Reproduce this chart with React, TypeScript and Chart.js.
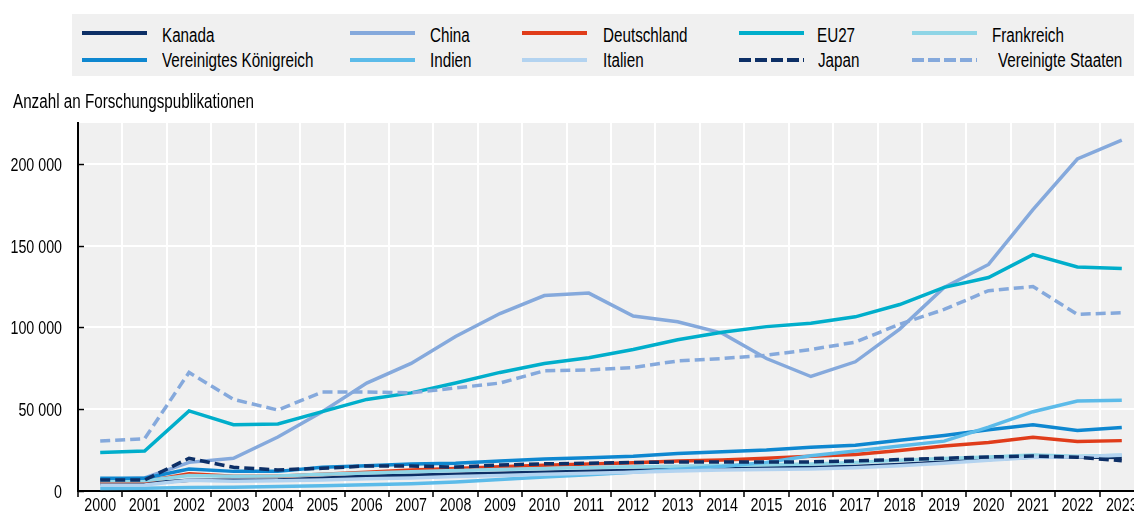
import React, { useEffect, useRef } from "react";
import { Chart, registerables } from "chart.js";

Chart.register(...registerables);

const years = ["2000","2001","2002","2003","2004","2005","2006","2007","2008","2009","2010","2011","2012","2013","2014","2015","2016","2017","2018","2019","2020","2021","2022","2023"];

const kanada = [4500, 4700, 6500, 6500, 6800, 7800, 9000, 9600, 10200, 10800, 11500, 12000, 12600, 13200, 13600, 14000, 14400, 15000, 16200, 17800, 19200, 20800, 20800, 20500];
const china = [7000, 8000, 17500, 20000, 33000, 48500, 66000, 78000, 94500, 108500, 119500, 121000, 107000, 103500, 96500, 81000, 70000, 79000, 99000, 124500, 138500, 172000, 203000, 214500];
const deutschland = [5700, 5800, 10500, 9000, 9000, 10300, 11500, 12800, 13800, 14800, 15800, 16500, 17300, 18300, 19000, 20000, 21300, 22300, 24700, 27500, 29600, 32800, 30200, 30800];
const eu27 = [23500, 24500, 49000, 40500, 41000, 48500, 56000, 60000, 66000, 72500, 78000, 81500, 86500, 92500, 97000, 100500, 102500, 106500, 114000, 124500, 130500, 144500, 137000, 136000];
const frankreich = [6200, 6300, 9500, 9000, 9200, 10200, 11000, 11800, 12500, 13200, 13800, 14300, 14800, 15200, 15600, 16000, 16500, 17500, 18800, 19800, 20800, 22000, 21300, 21800];
const vk = [7800, 7800, 13500, 12000, 12000, 14500, 15500, 16500, 17000, 18300, 19600, 20300, 21300, 23000, 24000, 25000, 26700, 28000, 31000, 34000, 37500, 40500, 37000, 38800];
const indien = [1500, 1700, 2200, 2300, 2700, 3200, 3800, 4500, 5500, 7000, 8500, 10000, 11500, 13300, 15000, 17500, 21500, 24500, 27500, 30500, 39000, 48500, 55000, 55500];
const italien = [3500, 3700, 6500, 6000, 6200, 6800, 7500, 8000, 8800, 9500, 10200, 10800, 11500, 12200, 12800, 13100, 13500, 14200, 15500, 17000, 18800, 20500, 20800, 22000];
const japan = [6700, 6700, 20000, 14500, 12900, 13900, 15300, 15300, 14600, 15900, 16600, 17000, 17400, 17800, 17800, 17800, 17800, 18400, 19200, 20000, 20800, 21400, 20700, 18500];
const usa = [30500, 32000, 72500, 56000, 49500, 60500, 60500, 60000, 63000, 66000, 73500, 74000, 75500, 79500, 81000, 83000, 86500, 91000, 102000, 111000, 122500, 125000, 108000, 109000];

const yTicks = [0, 50000, 100000, 150000, 200000];
const yTitle = "Anzahl an Forschungspublikationen";

const series = [
  { label: "Kanada", data: kanada, color: "#0d2f66", dash: [] as number[] },
  { label: "China", data: china, color: "#85a9dc", dash: [] as number[] },
  { label: "Deutschland", data: deutschland, color: "#e03c1a", dash: [] as number[] },
  { label: "EU27", data: eu27, color: "#00aecb", dash: [] as number[] },
  { label: "Frankreich", data: frankreich, color: "#8fd5e6", dash: [] as number[] },
  { label: "Vereinigtes Königreich", data: vk, color: "#0e87d0", dash: [] as number[] },
  { label: "Indien", data: indien, color: "#5cbbe9", dash: [] as number[] },
  { label: "Italien", data: italien, color: "#b3d3f0", dash: [] as number[] },
  { label: "Japan", data: japan, color: "#0d2f66", dash: [10, 5] },
  { label: "Vereinigte Staaten", data: usa, color: "#85a9dc", dash: [10, 5] },
];

const FONT = '"Liberation Sans", Arial, sans-serif';
const TICK_SIZE = 19;
const TICK_SCALE = 0.75;

const fmt = (v: number) => String(v).replace(/\B(?=(\d{3})+(?!\d))/g, " ");

const drawNarrow = (ctx: CanvasRenderingContext2D, text: string, x: number, y: number, align: CanvasTextAlign) => {
  ctx.save();
  ctx.translate(x, y);
  ctx.scale(TICK_SCALE, 1);
  ctx.textAlign = align;
  ctx.textBaseline = "alphabetic";
  ctx.fillText(text, 0, 0);
  ctx.restore();
};

const bgPlugin = {
  id: "bgPlugin",
  beforeDraw(chart: any) {
    const { ctx, chartArea } = chart;
    ctx.save();
    ctx.fillStyle = "#f0f0f0";
    ctx.fillRect(chartArea.left, chartArea.top, chartArea.right - chartArea.left, chartArea.bottom - chartArea.top);
    ctx.restore();
  },
  afterDraw(chart: any) {
    const { ctx, chartArea } = chart;
    const y = chart.scales.y;
    const x = chart.scales.x;
    ctx.save();
    ctx.strokeStyle = "#000";
    ctx.lineWidth = 1.5;
    y.ticks.forEach((t: any) => {
      const py = Math.round(y.getPixelForValue(t.value)) + 0.5;
      ctx.beginPath();
      ctx.moveTo(chartArea.left, py);
      ctx.lineTo(chartArea.left + 6, py);
      ctx.stroke();
    });
    ctx.fillStyle = "#000";
    ctx.font = `${TICK_SIZE}px ${FONT}`;
    y.ticks.forEach((t: any) => {
      const py = y.getPixelForValue(t.value);
      drawNarrow(ctx, fmt(t.value), chartArea.left - 16, py + 7, "right");
    });
    (chart.data.labels as string[]).forEach((lab, i) => {
      const px = x.getPixelForValue(i);
      drawNarrow(ctx, lab, px, chartArea.bottom + 20, "center");
    });
    ctx.restore();
  },
};

const colX = [82, 350, 522, 739, 912];
const textX = [162, 430, 603, 817, 992];
const textX2 = [162, 430, 603, 818, 998];

export default function App() {
  const ref = useRef<HTMLCanvasElement>(null);
  useEffect(() => {
    if (!ref.current) return;
    const chart = new Chart(ref.current, {
      type: "line",
      data: {
        labels: years,
        datasets: series.map((s, i) => ({
          label: s.label,
          data: s.data,
          borderColor: s.color,
          backgroundColor: s.color,
          borderWidth: 3.5,
          borderDash: s.dash,
          pointRadius: 0,
          tension: 0,
          fill: false,
          order: 20 - i,
        })),
      },
      options: {
        animation: false,
        responsive: false,
        devicePixelRatio: 1,
        layout: { padding: { top: 123, left: 0, right: 0, bottom: 0 } },
        plugins: { legend: { display: false }, tooltip: { enabled: false }, title: { display: false } },
        scales: {
          x: {
            offset: true,
            afterFit: (s: any) => { s.height = 24; },
            grid: { offset: true, color: "#ffffff", lineWidth: 2, drawTicks: true, tickLength: 6, tickColor: "#000", tickWidth: 1.5 },
            border: { color: "#000", width: 2 },
            ticks: { display: false, autoSkip: false },
          },
          y: {
            min: 0,
            max: 225000,
            afterFit: (s: any) => { s.width = 78; },
            afterBuildTicks: (s: any) => { s.ticks = yTicks.map((v) => ({ value: v })); },
            grid: { color: "#ffffff", lineWidth: 2, drawTicks: false },
            border: { color: "#000", width: 2 },
            ticks: { display: false, includeBounds: false },
          },
        },
      },
      plugins: [bgPlugin],
    });
    return () => chart.destroy();
  }, []);

  const textStyle: React.CSSProperties = {
    position: "absolute",
    fontFamily: FONT,
    fontSize: 19.5,
    color: "#000",
    whiteSpace: "nowrap",
    lineHeight: "20px",
    transform: "scaleX(0.78)",
    transformOrigin: "0 0",
  };

  return (
    <div style={{ position: "absolute", left: 0, top: 0, width: 1134, height: 515, overflow: "hidden", background: "#fff" }}>
      <canvas ref={ref} width={1144} height={515} style={{ position: "absolute", left: 0, top: 0, width: 1144, height: 515 }} />
      <div style={{ position: "absolute", left: 72, top: 14, width: 1062, height: 62, background: "#f0f0f0" }} />
      {series.map((s, i) => {
        const col = i % 5;
        const row = Math.floor(i / 5);
        const cy = row === 0 ? 33 : 60;
        const ty = row === 0 ? 25 : 50;
        const tx = row === 0 ? textX[col] : textX2[col];
        return (
          <React.Fragment key={s.label}>
            <svg style={{ position: "absolute", left: colX[col], top: cy - 3, overflow: "visible" }} width={65} height={6}>
              <line x1={0} y1={3} x2={65} y2={3} stroke={s.color} strokeWidth={4} strokeDasharray={s.dash.length ? "12 4" : undefined} />
            </svg>
            <div style={{ ...textStyle, left: tx, top: ty }}>{s.label}</div>
          </React.Fragment>
        );
      })}
      <div style={{ ...textStyle, left: 13, top: 91 }}>{yTitle}</div>
    </div>
  );
}
